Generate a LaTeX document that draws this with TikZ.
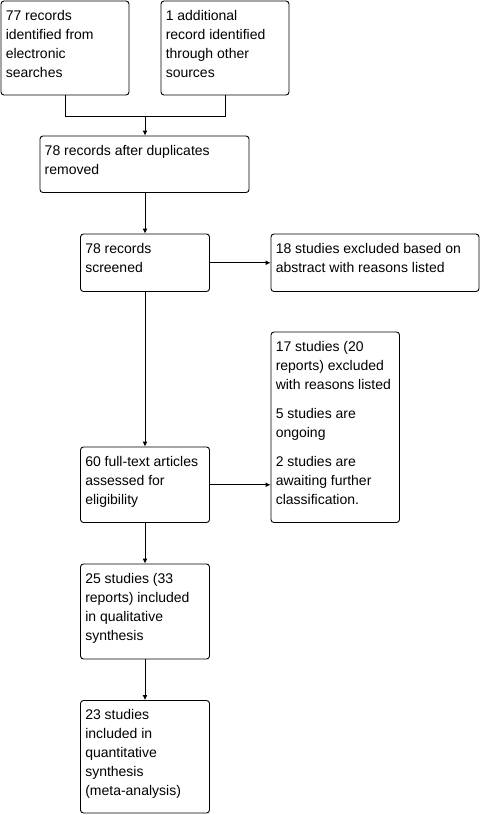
\documentclass[tikz,border=0pt]{standalone}
\usepackage{fontspec}
\setmainfont{Liberation Sans}
\usetikzlibrary{arrows.meta}
\begin{document}
\begin{tikzpicture}[x=1pt,y=-1pt,
  box/.style={draw=black, line width=0.9pt, rounded corners=3pt, inner sep=0pt},
  txt/.style={anchor=north west, inner sep=0pt, align=left, font=\fontsize{14}{19}\selectfont},
  conn/.style={draw=black, line width=0.9pt},
  arr/.style={conn, -{Latex[length=5pt,width=5pt]}}]
\useasboundingbox (0,0) rectangle (482,815);
% boxes
\node[box, minimum width=128pt, minimum height=94pt] (b1) at (65,48) {};
\node[box, minimum width=128pt, minimum height=94pt] (b2) at (225,48) {};
\node[box, minimum width=209pt, minimum height=56.5pt] (b3) at (144.5,164.25) {};
\node[box, minimum width=129pt, minimum height=57.5pt] (b4) at (145,262.75) {};
\node[box, minimum width=208pt, minimum height=57.5pt] (b5) at (375,262.75) {};
\node[box, minimum width=128.5pt, minimum height=190.5pt] (b6) at (335.25,427.25) {};
\node[box, minimum width=129pt, minimum height=75.5pt] (b7) at (145,484.75) {};
\node[box, minimum width=129pt, minimum height=95pt] (b8) at (145,611.5) {};
\node[box, minimum width=129pt, minimum height=112.5pt] (b9) at (145,756.75) {};
% texts
\node[txt] (t1) at ([shift={(5,6.2)}]b1.north west) {\strut 77 records\\identified from\\electronic\\searches};
\node[txt] (t2) at ([shift={(5,6.2)}]b2.north west) {\strut 1 additional\\record identified\\through other\\sources};
\node[txt] (t3) at ([shift={(5,6.2)}]b3.north west) {\strut 78 records after duplicates\\removed};
\node[txt] (t4) at ([shift={(5,6.2)}]b4.north west) {\strut 78 records\\screened};
\node[txt] (t5) at ([shift={(5,6.2)}]b5.north west) {\strut 18 studies excluded based on\\abstract with reasons listed};
\node[txt] (t6) at ([shift={(5,6.2)}]b6.north west) {\strut 17 studies (20\\reports) excluded\\with reasons listed\\[10pt]5 studies are\\ongoing\\[10pt]2 studies are\\awaiting further\\classification.};
\node[txt] (t7) at ([shift={(5,6.2)}]b7.north west) {\strut 60 full-text articles\\assessed for\\eligibility};
\node[txt] (t8) at ([shift={(5,6.2)}]b8.north west) {\strut 25 studies (33\\reports) included\\in qualitative\\synthesis};
\node[txt] (t9) at ([shift={(5,6.2)}]b9.north west) {\strut 23 studies\\included in\\quantitative\\synthesis\\(meta-analysis)};
% connectors
\coordinate (j) at (145,116);
\draw[conn] (b1.south) |- (j);
\draw[conn] (b2.south) |- (j);
\draw[arr] (j) -- (j |- b3.north);
\draw[arr] (b3.south -| b4.north) -- (b4.north);
\draw[arr] (b4.east) -- (b5.west);
\draw[arr] (b4.south) -- (b7.north);
\draw[arr] (b7.east) -- (b7.east -| b6.west);
\draw[arr] (b7.south) -- (b8.north);
\draw[arr] (b8.south) -- (b9.north);
\end{tikzpicture}
\end{document}
